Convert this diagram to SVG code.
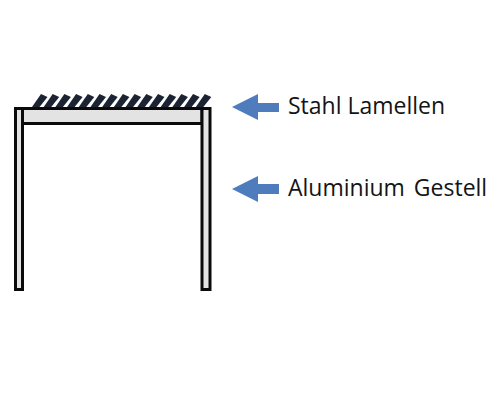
<svg xmlns="http://www.w3.org/2000/svg" width="500" height="400" viewBox="0 0 500 400">
<style>
.frame{fill:#e3e3e3;stroke:#0a0a0a;stroke-width:3}
.slat{fill:#1c2333}
.arrow{fill:#4f7cbd}
text{font-family:"Open Sans","Liberation Sans",sans-serif;font-size:23px;fill:#141414}
</style>
<defs><path id="s" d="M0 13L9 0L15.500 3L7.500 13Z"/></defs>
<g id="slats" class="slat">
<use href="#s" x="32" y="94"/><use href="#s" x="43.700" y="94"/><use href="#s" x="55.400" y="94"/><use href="#s" x="67.100" y="94"/><use href="#s" x="78.800" y="94"/><use href="#s" x="90.500" y="94"/><use href="#s" x="102.200" y="94"/><use href="#s" x="113.900" y="94"/><use href="#s" x="125.600" y="94"/><use href="#s" x="137.300" y="94"/><use href="#s" x="149" y="94"/><use href="#s" x="160.700" y="94"/><use href="#s" x="172.400" y="94"/><use href="#s" x="184.100" y="94"/><use href="#s" x="195.800" y="94"/>
</g>
<g id="beam"><rect class="frame" x="22" y="108.500" width="180" height="15"/></g>
<g id="post-left"><rect class="frame" x="15.500" y="108.500" width="7" height="181"/></g>
<g id="post-right"><rect class="frame" x="202" y="108.500" width="8" height="181"/></g>
<g id="connectors">
<path class="arrow" d="M232 107L258 94V103H279V112H258V120Z"/>
<path class="arrow" d="M232 189L258 176V184H279V194H258V202Z"/>
</g>
<g id="label-1"><text x="288" y="114">Stahl Lamellen</text></g>
<g id="label-2"><text x="288" y="196" word-spacing="3">Aluminium Gestell</text></g>
</svg>
